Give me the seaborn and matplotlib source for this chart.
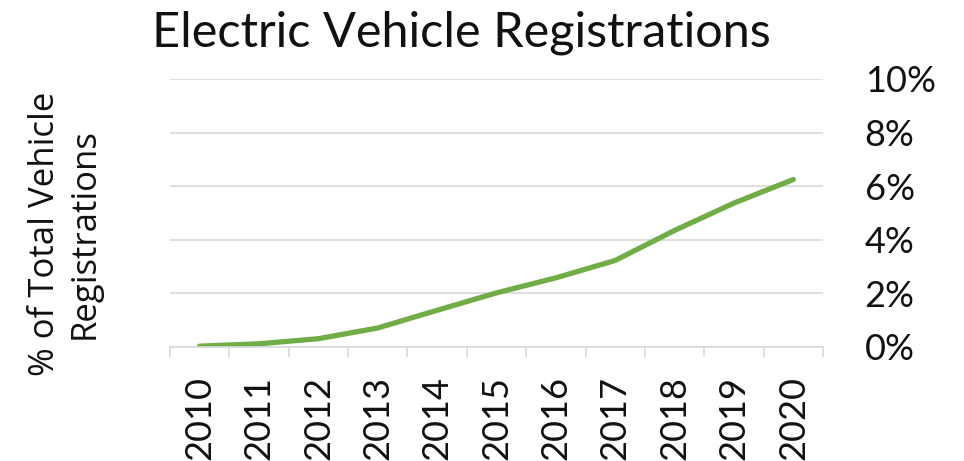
import matplotlib
matplotlib.use("Agg")
import matplotlib.pyplot as plt
import seaborn as sns
import pandas as pd
import numpy as np
from matplotlib.ticker import FixedLocator, PercentFormatter

years = ["2010", "2011", "2012", "2013", "2014", "2015", "2016", "2017", "2018", "2019", "2020"]
share_pct = [0.03, 0.12, 0.31, 0.71, 1.37, 2.02, 2.58, 3.23, 4.35, 5.37, 6.25]
ytick_vals = [0, 2, 4, 6, 8, 10]

sns.set_theme(style="white")
plt.rcParams['font.family'] = ['Lato', 'DejaVu Sans']

df = pd.DataFrame({"year": years, "pos": np.arange(len(years)), "share": share_pct})

fig = plt.figure(figsize=(9.64, 4.61), dpi=100)
ax = fig.add_axes([170/964, 1 - 347/461, (823-170)/964, (347-79)/461])

sns.lineplot(data=df, x="pos", y="share", ax=ax, color="#70AD47", linewidth=3.8,
             solid_capstyle="round", legend=False)

ax.set_xlim(-0.5, len(years) - 0.5)
ax.set_ylim(0, 10)
ax.yaxis.tick_right()
ax.set_yticks(ytick_vals)
ax.yaxis.set_major_formatter(PercentFormatter(decimals=0))
ax.tick_params(axis="y", length=0, pad=30, labelsize=26, labelcolor="#111111")
ax.grid(axis="y", color="#D9D9D9", linewidth=1.2)
ax.set_axisbelow(True)

ax.set_xticks(np.arange(len(years)))
ax.set_xticklabels(years, rotation=90, va="top", ha="center")
ax.tick_params(axis="x", which="major", length=0, pad=21, labelsize=26, labelcolor="#111111")
ax.xaxis.set_minor_locator(FixedLocator(np.arange(-0.5, len(years), 1.0)))
ax.tick_params(axis="x", which="minor", bottom=True, length=7, width=1.2, color="#D9D9D9")

for s in ["top", "left", "right"]:
    ax.spines[s].set_visible(False)
ax.spines["bottom"].set_color("#D9D9D9")
ax.spines["bottom"].set_linewidth(1.2)

ax.set_xlabel("")
ax.set_ylabel("")

fig.text(461/964, 1 - 33/461, "Electric Vehicle Registrations", ha="center", va="center",
         fontsize=35, color="#111111")
fig.text(65/964, 1 - 234/461, "% of Total Vehicle\nRegistrations", rotation=90,
         ha="center", va="center", multialignment="center", fontsize=25, color="#111111",
         linespacing=1.2, family=["Open Sans", "DejaVu Sans"])

fig.savefig("out.png", dpi=100)
